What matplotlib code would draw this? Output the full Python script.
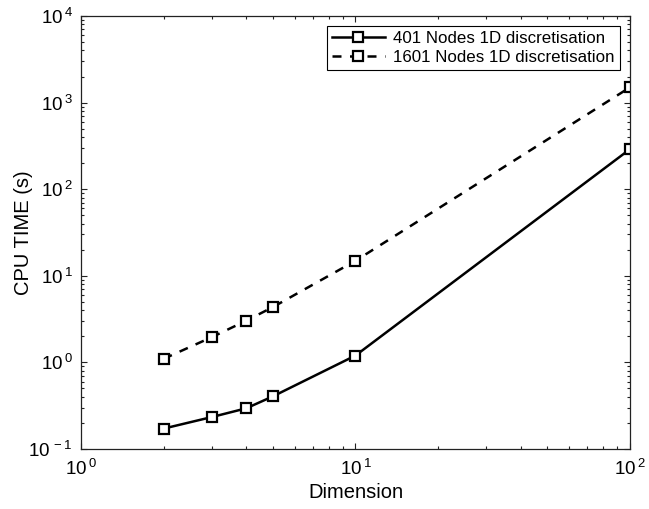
import math
import matplotlib
matplotlib.use('Agg')
import matplotlib.pyplot as plt
from matplotlib.ticker import LogLocator, FuncFormatter, NullFormatter

plt.rcParams['font.family'] = ['Liberation Sans', 'DejaVu Sans']
plt.rcParams['mathtext.default'] = 'regular'

# CPU time against problem dimension
dims = [2, 3, 4, 5, 10, 100]
cpu_401 = [0.172, 0.234, 0.295, 0.405, 1.2, 290]
cpu_1601 = [1.1, 1.96, 3.03, 4.35, 14.9, 1500]
labels = ['401 Nodes 1D discretisation', '1601 Nodes 1D discretisation']

fig = plt.figure(figsize=(6.49, 5.09), dpi=100)
ax = fig.add_axes([0.1248, 0.1179, 0.8459, 0.8507])

mk = dict(marker='s', markersize=7, markerfacecolor='white',
          markeredgecolor='black', markeredgewidth=1.6)
ax.plot(dims, cpu_401, '-', color='black', linewidth=1.8, label=labels[0], **mk)
ax.plot(dims, cpu_1601, '--', color='black', linewidth=1.8, dashes=(3.6, 3.4),
        label=labels[1], **mk)

ax.set_xscale('log')
ax.set_yscale('log')
ax.set_xlim(1, 100)
ax.set_ylim(0.1, 1e4)

fmt = FuncFormatter(lambda v, p: r'$10^{\,%d}$' % round(math.log10(v)))
for axis in (ax.xaxis, ax.yaxis):
    axis.set_major_locator(LogLocator(base=10))
    axis.set_minor_locator(LogLocator(base=10, subs=range(2, 10)))
    axis.set_major_formatter(fmt)
    axis.set_minor_formatter(NullFormatter())

ax.tick_params(which='both', direction='in', top=True, right=True,
               labelsize=13.5, width=0.8, colors='#222222')
ax.tick_params(which='major', length=4.5)
ax.tick_params(which='minor', length=2.5)
ax.tick_params(axis='x', labelcolor='black', pad=7)
ax.tick_params(axis='y', labelcolor='black', pad=6)
for s in ax.spines.values():
    s.set_linewidth(0.9)
    s.set_color('#222222')

ax.set_xlabel('Dimension', fontsize=14.5, labelpad=3)
ax.set_ylabel('CPU TIME (s)', fontsize=14.5)
ax.yaxis.set_label_coords(-0.087, 0.5)

leg = ax.legend(loc='upper right', fontsize=12.2, handlelength=3.1,
                fancybox=False, framealpha=1, edgecolor='black',
                borderpad=0.3, labelspacing=0.2, handletextpad=0.5,
                borderaxespad=0.6)
leg.get_frame().set_linewidth(0.8)

fig.savefig('out.png', dpi=100)
